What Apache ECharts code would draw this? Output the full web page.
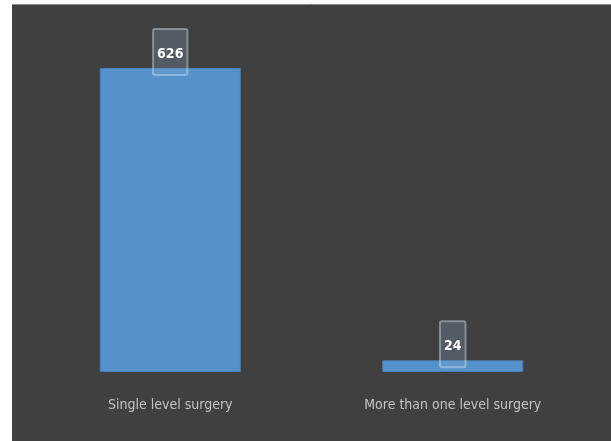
<!DOCTYPE html>
<html><head><meta charset="utf-8">
<script src="https://cdn.jsdelivr.net/npm/echarts@6/dist/echarts.min.js"></script>
<style>html,body{margin:0;padding:0;background:#fff;}#c{width:611px;height:441px;}</style>
</head><body><div id="c"></div>
<script>
const categories = ["Single level surgery", "More than one level surgery"];
const values = [626, 24];

const FONT = '"DejaVu Sans Condensed", sans-serif';
const chart = echarts.init(document.getElementById('c'));
chart.setOption({
  backgroundColor: '#ffffff',
  animation: false,
  graphic: [
    {type: 'rect', shape: {x: 12, y: 4, width: 599, height: 437}, style: {fill: '#404040'}, z: -10},
    {type: 'line', shape: {x1: 12, y1: 4.5, x2: 611, y2: 4.5}, style: {stroke: '#8a8a8a', lineWidth: 1}, z: -9}
  ],
  grid: {left: 29, right: 17, top: 68, bottom: 69},
  xAxis: {
    type: 'category', data: categories,
    axisLine: {show: false}, axisTick: {show: false},
    axisLabel: {color: '#c4c4c4', fontFamily: FONT, fontSize: 14, margin: 26}
  },
  yAxis: {type: 'value', min: 0, max: 626, show: false, splitLine: {show: false}},
  series: [{
    type: 'bar', data: values, barWidth: 141,
    itemStyle: {color: '#5592cb', borderColor: '#4a80b8', borderWidth: 1},
    label: {
      show: true, position: 'top', distance: -7,
      color: '#ffffff', fontFamily: FONT, fontWeight: 'bold', fontSize: 14,
      lineHeight: 17,
      backgroundColor: 'rgba(140,175,210,0.25)', borderColor: 'rgba(220,230,240,0.45)', borderWidth: 1, borderRadius: 2,
      padding: [17, 4, 12, 4]
    }
  }]
});
</script></body></html>
